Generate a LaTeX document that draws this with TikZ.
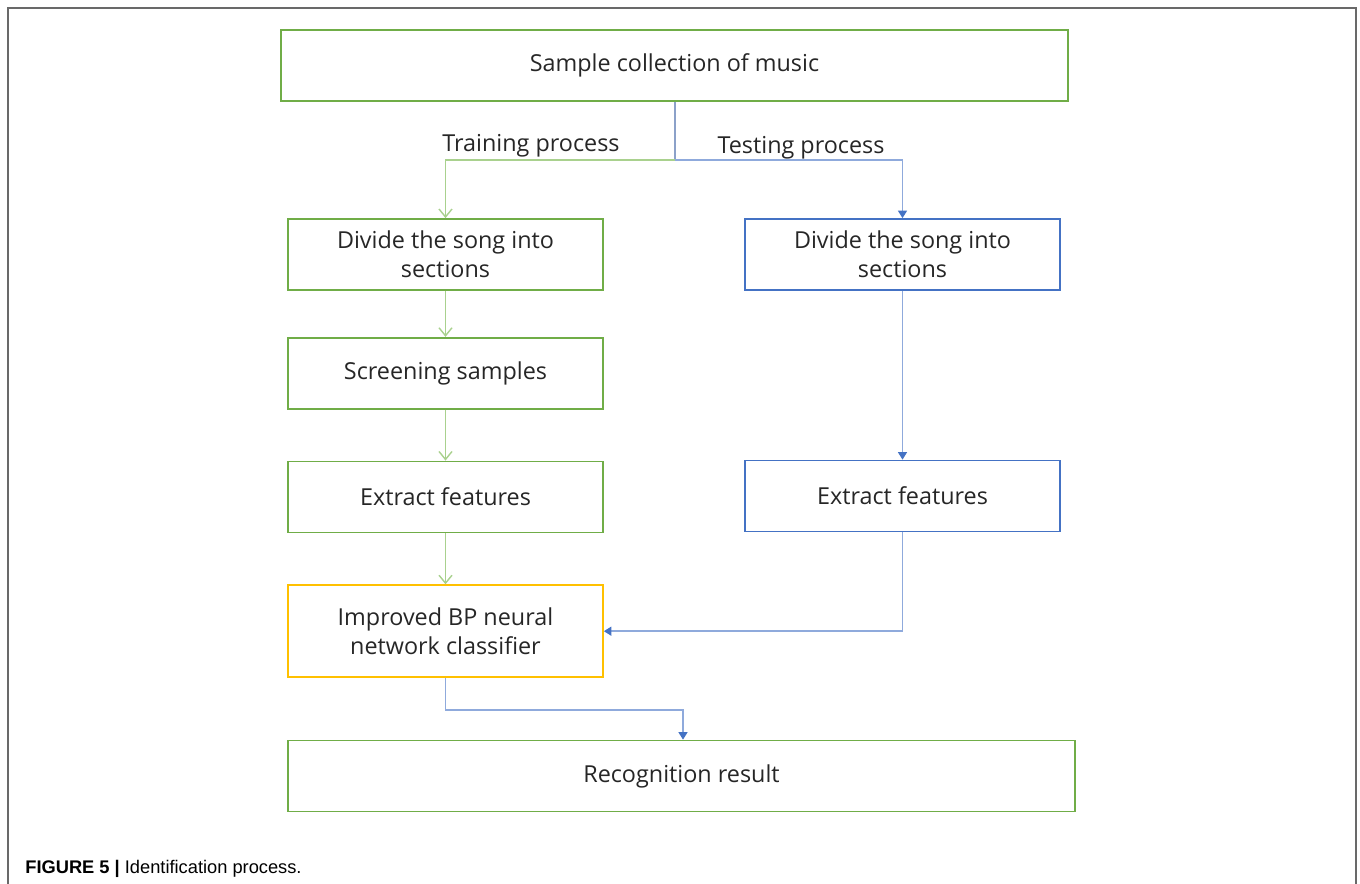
\documentclass[tikz,border=0pt]{standalone}
\usepackage{fontspec}
\setmainfont{Open Sans}
\newfontfamily\capfont{Liberation Sans}
\usetikzlibrary{%
	positioning,
	calc,
	arrows.meta
}
\definecolor{boxgreen}{RGB}{112,173,71}
\definecolor{arrgreen}{RGB}{169,209,142}
\definecolor{boxblue}{RGB}{68,114,196}
\definecolor{arrblue}{RGB}{143,170,220}
\definecolor{boxyellow}{RGB}{255,192,0}
\definecolor{framegray}{RGB}{105,105,105}

\begin{document}
\begin{tikzpicture}[x=0.02cm,y=-0.02cm,
		step box/.style={draw,shape=rectangle,line width=1pt,minimum width=6.3cm,minimum height=1.42cm,align=center,font=\fontsize{13.3}{16.5}\selectfont,text=black!85},
		wide box/.style={step box,minimum width=15.74cm},
		green line/.style={draw=arrgreen,line width=0.8pt,-{Straight Barb[length=1.6mm,width=2.6mm]}},
		blue line/.style={draw=arrblue,line width=0.8pt,-{Triangle[length=1.5mm,width=1.8mm,color=boxblue]}},
		plabel/.style={font=\fontsize{13.3}{16.5}\selectfont,text=black!85,inner sep=1pt}
	]
	\useasboundingbox (0,0) rectangle (1360,884);
	
	% frame and caption
	\draw[framegray,line width=1pt] (8,884) -- (8,8) -- (1356,8) -- (1356,884);
	\node(caption) [anchor=west,font=\capfont\fontsize{10.4}{12}\selectfont,inner sep=0pt] at (25,869) {\textbf{FIGURE 5 |} Identification process.};
	
	%top
	\node(sample) [wide box,draw=boxgreen] at (674.5,65.5) {Sample collection of music};
	\coordinate(split) at (675,160);
	
	%training side
	\node(divL) [step box,draw=boxgreen] at (445.5,254.5) {Divide the song into\\sections};
	\node(screen) [step box,draw=boxgreen, below=0.92cm of divL] {Screening samples};
	\node(extL) [step box,draw=boxgreen, below=1.02cm of screen] {Extract features};
	\node(impr) [step box,draw=boxyellow,minimum height=1.84cm, below=1.02cm of extL] {Improved BP neural\\network classifier};
	
	%testing side
	\node(divR) [step box,draw=boxblue] at (902.5,254.5) {Divide the song into\\sections};
	\node(extR) [step box,draw=boxblue] at (902.5,496) {Extract features};
	
	%result
	\node(recog) [wide box,draw=boxgreen] at (681.5,776) {Recognition result};
	\coordinate(bend) at (683,710);
	
	\node(trainlbl) [plabel] at (531,146) {Training process};
	\node(testlbl) [plabel] at (801,148) {Testing process};
	
	\draw [draw=arrblue!80!gray,line width=0.8pt] (sample.south -| split) -- (split);
	\draw [green line] (split) -| (divL.north);
	\draw [blue line] (split) -| (divR.north);
	\draw [green line] (divL) -- (screen);
	\draw [green line] (screen) -- (extL);
	\draw [green line] (extL) -- (impr);
	\draw [blue line] (divR) -- (extR);
	\draw [blue line] (extR.south) |- (impr.east);
	\draw [blue line] (impr.south) |- (bend) -- (recog.north -| bend);
\end{tikzpicture}
\end{document}
